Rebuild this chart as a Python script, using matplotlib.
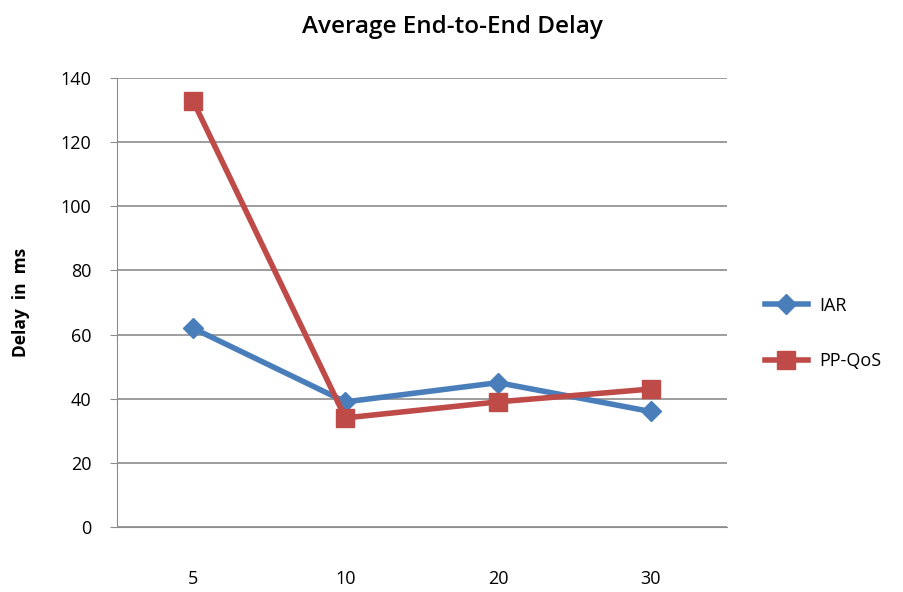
import matplotlib.pyplot as plt

# 데이터
categories = ['5', '10', '20', '30']
iar = [62, 39, 45, 36]
ppqos = [133, 34, 39, 43]

plt.rcParams['font.family'] = ['Open Sans', 'DejaVu Sans']

fig = plt.figure(figsize=(9.04, 5.92), dpi=100)
ax = fig.add_axes([0.129, 0.110, 0.675, 0.758])

x = list(range(len(categories)))
ax.plot(x, iar, color='#4a7ebb', lw=4, marker='D', ms=10, label='IAR')
ax.plot(x, ppqos, color='#be4b48', lw=4, marker='s', ms=13, label='PP-QoS')

ax.set_xlim(-0.5, 3.5)
ax.set_ylim(0, 140)
ax.set_yticks(range(0, 141, 20))
ax.set_xticks(x)
ax.set_xticklabels(categories)
ax.yaxis.grid(True, color='#8c8c8c', lw=1.2)
ax.set_axisbelow(True)
for s in ['top', 'right']:
    ax.spines[s].set_visible(False)
for s in ['left', 'bottom']:
    ax.spines[s].set_color('#8c8c8c')
ax.tick_params(axis='both', labelsize=13, color='#8c8c8c', length=5)
ax.tick_params(axis='x', length=0, pad=31)
ax.tick_params(axis='y', pad=13)

ax.set_ylabel('Delay  in  ms', fontsize=12.5, fontweight='bold', labelpad=22)
fig.suptitle('Average End-to-End Delay', fontsize=17.5, fontweight='semibold',
             x=0.5, y=0.975)

ax.legend(loc='center left', bbox_to_anchor=(1.062, 0.431), frameon=False,
          fontsize=13, labelspacing=2.1, handlelength=2.4, handletextpad=0.6,
          borderaxespad=0, borderpad=0)

fig.savefig('out.png', dpi=100)
